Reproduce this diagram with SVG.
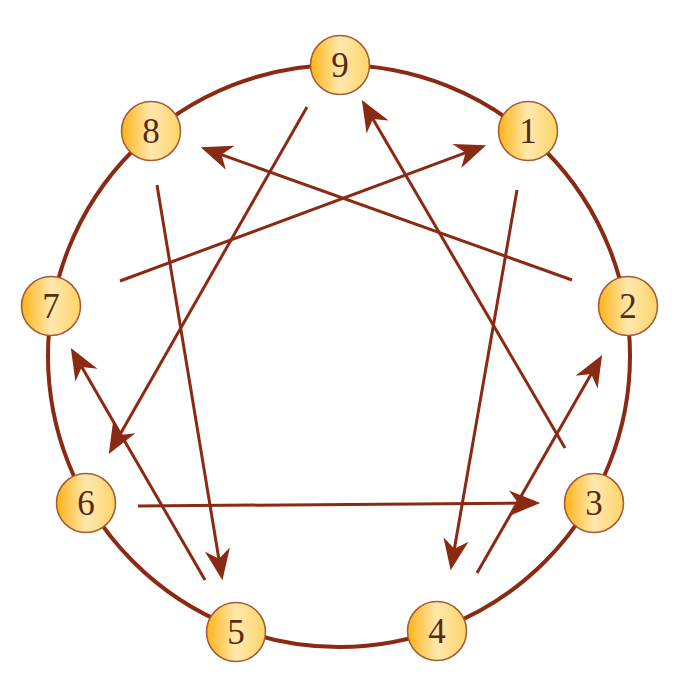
<svg xmlns="http://www.w3.org/2000/svg" width="700" height="700" viewBox="0 0 700 700">
<defs>
<linearGradient id="g" x1="0" y1="0" x2="1" y2="0">
<stop offset="0" stop-color="#FDB316"/>
<stop offset="0.5" stop-color="#FFE8AE"/>
<stop offset="1" stop-color="#FDD468"/>
</linearGradient>
<marker id="ah" markerUnits="userSpaceOnUse" markerWidth="44" markerHeight="44" viewBox="-16 -16 38 32" refX="0" refY="0" orient="auto">
<path d="M15,0 L-12,-11 L-4,0 L-12,11 Z" fill="#8B2A12"/>
</marker>
<style>
.ring{fill:none;stroke:#8B2A12;stroke-width:4}
.node circle{fill:url(#g);stroke:#A45A35;stroke-width:1.5}
.node text{font-family:"Liberation Serif","DejaVu Serif",serif;font-size:35px;fill:#5A2A12;text-anchor:middle;dominant-baseline:central}
.c{stroke:#8B2A12;stroke-width:3;fill:none;marker-end:url(#ah);stroke-linecap:butt}
</style>
</defs>
<rect width="700" height="700" fill="#fff"/>
<circle class="ring" cx="339" cy="356" r="291"/>
<g id="connectors">
<line class="c" x1="307" y1="107" x2="117.4" y2="439"/>
<line class="c" x1="572" y1="280" x2="217.1" y2="153.1"/>
<line class="c" x1="120" y1="281" x2="469.9" y2="151.2"/>
<line class="c" x1="157" y1="185" x2="219.6" y2="563.2"/>
<line class="c" x1="565" y1="448" x2="370.6" y2="115"/>
<line class="c" x1="517" y1="190" x2="453.6" y2="553.2"/>
<line class="c" x1="477" y1="573" x2="593.5" y2="370"/>
<line class="c" x1="138" y1="506" x2="523" y2="503.1"/>
<line class="c" x1="205" y1="580" x2="79.5" y2="363"/>
</g>
<g id="n9" class="node"><circle cx="340" cy="65" r="29.5"/><text x="340" y="65">9</text></g>
<g id="n1" class="node"><circle cx="528" cy="131" r="29.5"/><text x="528" y="131">1</text></g>
<g id="n2" class="node"><circle cx="628" cy="306" r="29.5"/><text x="628" y="306">2</text></g>
<g id="n3" class="node"><circle cx="594" cy="503" r="29.5"/><text x="594" y="503">3</text></g>
<g id="n4" class="node"><circle cx="437" cy="631" r="29.5"/><text x="437" y="631">4</text></g>
<g id="n5" class="node"><circle cx="236" cy="632" r="29.5"/><text x="236" y="632">5</text></g>
<g id="n6" class="node"><circle cx="86" cy="503" r="29.5"/><text x="86" y="503">6</text></g>
<g id="n7" class="node"><circle cx="51" cy="306" r="29.5"/><text x="51" y="306">7</text></g>
<g id="n8" class="node"><circle cx="151" cy="131" r="29.5"/><text x="151" y="131">8</text></g>
</svg>
